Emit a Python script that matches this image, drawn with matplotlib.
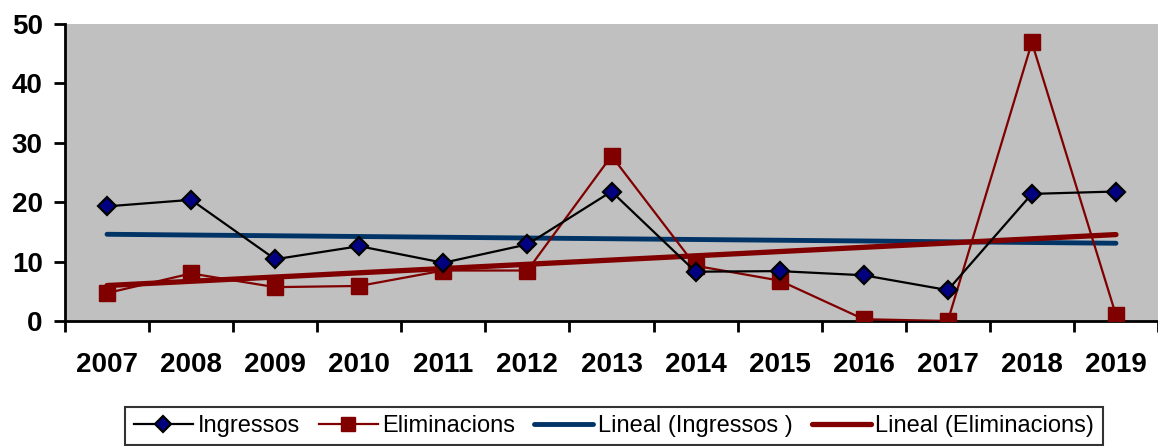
import numpy as np
import matplotlib.pyplot as plt

years = ['2007', '2008', '2009', '2010', '2011', '2012', '2013',
         '2014', '2015', '2016', '2017', '2018', '2019']
ingressos = [19.3, 20.4, 10.4, 12.6, 9.8, 12.9, 21.8, 8.3, 8.4, 7.7, 5.2, 21.4, 21.8]
eliminacions = [4.7, 8.0, 5.7, 5.9, 8.5, 8.5, 27.8, 9.3, 6.8, 0.3, 0.0, 46.9, 1.0]

x = np.arange(len(years))

fig = plt.figure(figsize=(11.58, 4.46), dpi=100)
ax = fig.add_axes([65 / 1158, 1 - 321 / 446, 1 - 65 / 1158, 297 / 446])
ax.set_facecolor('#c0c0c0')

ax.plot(x, ingressos, color='black', lw=1.6, marker='D', ms=9.5,
        mfc='#000080', mec='black', mew=1.6, label='Ingressos', zorder=4)
ax.plot(x, eliminacions, color='#800000', lw=1.6, marker='s', ms=11.5,
        mfc='#800000', mec='#800000', label='Eliminacions', zorder=3)

p1 = np.polyfit(x, ingressos, 1)
p2 = np.polyfit(x, eliminacions, 1)
ax.plot(x, np.polyval(p1, x), color='#003366', lw=3.5, solid_capstyle='round',
        label='Lineal (Ingressos )', zorder=2)
ax.plot(x, np.polyval(p2, x), color='#800000', lw=3.8, solid_capstyle='round',
        label='Lineal (Eliminacions)', zorder=2)

ax.set_xlim(-0.5, 12.42)
ax.set_ylim(0, 50)
ax.set_yticks([0, 10, 20, 30, 40, 50])
ax.set_xticks(np.arange(-0.5, 13, 1))
ax.set_xticklabels([])
ax.set_xticks(x, minor=True)
ax.set_xticklabels(years, minor=True)
ax.tick_params(axis='x', which='minor', length=0, pad=22)
ax.tick_params(axis='x', which='major', length=8, width=2, direction='out')
ax.tick_params(axis='y', length=8, width=2, direction='out', pad=8)
for lab in ax.get_xticklabels(minor=True) + ax.get_yticklabels():
    lab.set_fontfamily('Liberation Sans')
    lab.set_fontweight('bold')
    lab.set_fontsize(20)

for s in ['top', 'right']:
    ax.spines[s].set_visible(False)
for s in ['left', 'bottom']:
    ax.spines[s].set_linewidth(2)

leg = fig.legend(loc='center', bbox_to_anchor=(614 / 1158, 1 - 426 / 446), ncol=4,
                 prop={'family': 'Liberation Sans', 'size': 17},
                 frameon=True, fancybox=False, edgecolor='black',
                 handlelength=2.5, handletextpad=0.2, columnspacing=0.8,
                 borderpad=0.35, markerscale=0.9)
leg.get_frame().set_linewidth(1.5)

fig.savefig('out.png', dpi=100)
